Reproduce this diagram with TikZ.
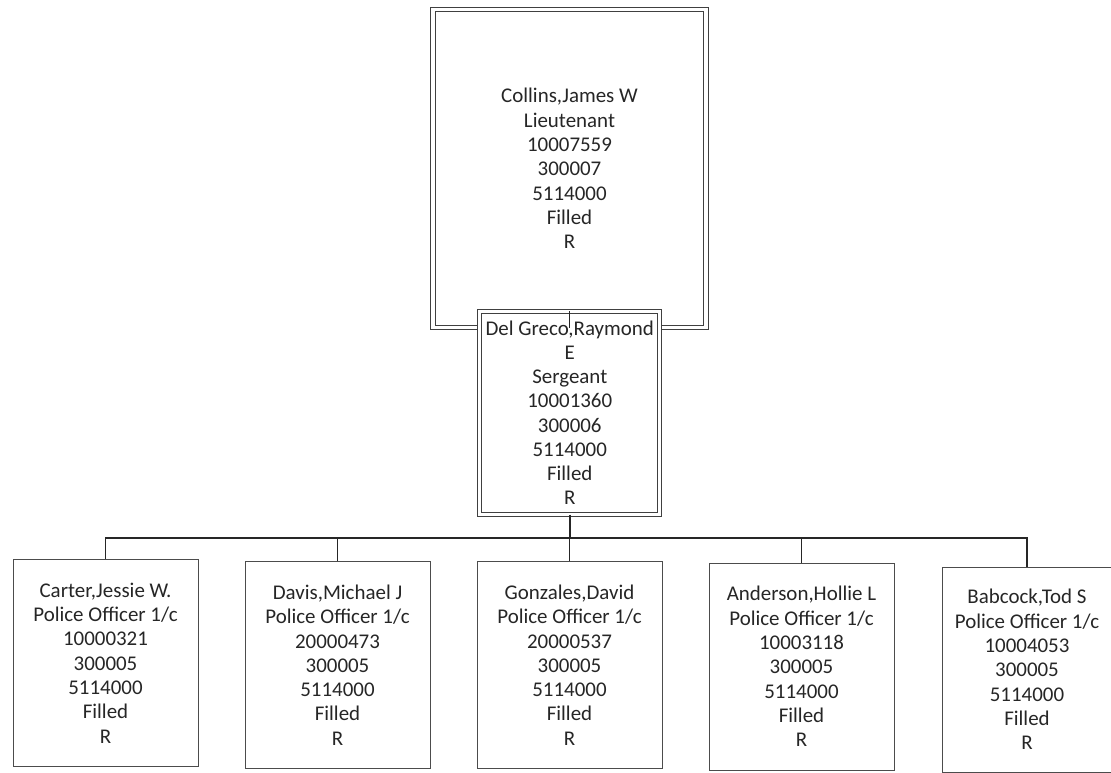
\documentclass[tikz,border=0pt]{standalone}
\usepackage{fontspec}
\setmainfont{Carlito}
\begin{document}
\begin{tikzpicture}[x=0.75pt,y=-0.75pt,
  txt/.style={align=center,font=\fontsize{15.7pt}{18.2pt}\selectfont,text=black!85,inner sep=0pt},
  dbox/.style={txt,rectangle,draw=black!75,line width=0.6pt,double=white,double distance=2.6pt,fill=white},
  pbox/.style={txt,rectangle,draw=black!70,line width=0.7pt,fill=white,minimum width=185*0.75pt,minimum height=207*0.75pt},
  conn/.style={draw=black!85,line width=1.3pt}]
\useasboundingbox (0,0) rectangle (1111,773);
\node[dbox,minimum width=273*0.75pt,minimum height=318*0.75pt] (collins) at (569.5,168.5)
  {Collins,James W\\Lieutenant\\10007559\\300007\\5114000\\Filled\\R};
\node[dbox,minimum width=180*0.75pt,minimum height=203*0.75pt] (delgreco) at (569.75,412.75)
  {Del Greco,Raymond\\E\\Sergeant\\10001360\\300006\\5114000\\Filled\\R};
\node[pbox] (carter) at (105.5,663) {Carter,Jessie W.\\Police Officer 1/c\\10000321\\300005\\5114000\\Filled\\R};
\node[pbox] (davis) at (337.5,665) {Davis,Michael J\\Police Officer 1/c\\20000473\\300005\\5114000\\Filled\\R};
\node[pbox] (gonzales) at (569.5,665) {Gonzales,David\\Police Officer 1/c\\20000537\\300005\\5114000\\Filled\\R};
\node[pbox] (anderson) at (801.5,666.5) {Anderson,Hollie L\\Police Officer 1/c\\10003118\\300005\\5114000\\Filled\\R};
\node[pbox,minimum width=170*0.75pt,minimum height=205*0.75pt] (babcock) at (1027,669.5) {Babcock,Tod S\\Police Officer 1/c\\10004053\\300005\\5114000\\Filled\\R};
\coordinate (bus) at (569.5,538);
\draw[conn] (collins.south) -- (collins.south |- delgreco.north);
\draw[conn] (delgreco.south) -- (delgreco.south |- bus);
\draw[conn] (carter.north) -- (carter.north |- bus) -- (babcock.north |- bus) -- (babcock.north);
\draw[conn] (davis.north) -- (davis.north |- bus);
\draw[conn] (gonzales.north) -- (gonzales.north |- bus);
\draw[conn] (anderson.north) -- (anderson.north |- bus);
\end{tikzpicture}
\end{document}
